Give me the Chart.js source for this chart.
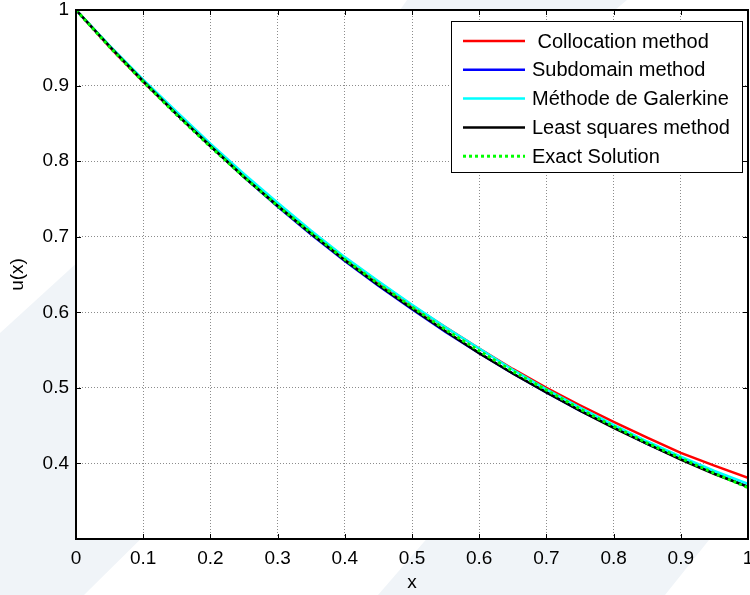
<!DOCTYPE html>
<html>
<head>
<meta charset="utf-8">
<script src="https://cdn.jsdelivr.net/npm/chart.js@4.4.0/dist/chart.umd.min.js"></script>
<style>
  html, body { margin: 0; padding: 0; background: #fff; }
</style>
</head>
<body>
<canvas id="chart" width="750" height="595"></canvas>
<script>
var xs = [0, 0.05, 0.1, 0.15, 0.2, 0.25, 0.3, 0.35, 0.4, 0.45, 0.5,
          0.55, 0.6, 0.65, 0.7, 0.75, 0.8, 0.85, 0.9, 0.95, 1];

var collocation = [1, 0.951, 0.905, 0.862, 0.820, 0.781, 0.743, 0.707, 0.672, 0.640, 0.609,
                   0.580, 0.552, 0.525, 0.500, 0.477, 0.455, 0.434, 0.414, 0.397, 0.381];
var subdomain   = [1, 0.952, 0.906, 0.862, 0.820, 0.779, 0.740, 0.703, 0.668, 0.635, 0.604,
                   0.574, 0.546, 0.519, 0.494, 0.470, 0.448, 0.426, 0.406, 0.387, 0.369];
var galerkin    = [1, 0.953, 0.908, 0.865, 0.823, 0.783, 0.745, 0.708, 0.673, 0.641, 0.610,
                   0.580, 0.552, 0.524, 0.498, 0.474, 0.451, 0.429, 0.409, 0.390, 0.373];
var leastSq     = [1, 0.952, 0.906, 0.862, 0.820, 0.779, 0.741, 0.704, 0.669, 0.636, 0.605,
                   0.575, 0.546, 0.519, 0.494, 0.470, 0.447, 0.426, 0.405, 0.386, 0.369];
var exact       = [1, 0.951, 0.905, 0.861, 0.819, 0.779, 0.741, 0.705, 0.670, 0.638, 0.607,
                   0.577, 0.549, 0.522, 0.497, 0.472, 0.449, 0.427, 0.407, 0.387, 0.368];

var names = [" Collocation method", "Subdomain method", "M\u00e9thode de Galerkine",
             "Least squares method", "Exact Solution"];
var xTicks = [0, 0.1, 0.2, 0.3, 0.4, 0.5, 0.6, 0.7, 0.8, 0.9, 1];
var yTicks = [0.3, 0.4, 0.5, 0.6, 0.7, 0.8, 0.9, 1];
var xTickLabels = ["0", "0.1", "0.2", "0.3", "0.4", "0.5", "0.6", "0.7", "0.8", "0.9", "1"];
var yTickLabels = ["", "0.4", "0.5", "0.6", "0.7", "0.8", "0.9", "1"];

function pts(ys) {
  return xs.map(function (x, i) { return {x: x, y: ys[i]}; });
}

function series(label, ys, color, order, dash) {
  return {
    label: label,
    data: pts(ys),
    borderColor: color,
    backgroundColor: color,
    borderWidth: dash ? 3 : 2.5,
    borderDash: dash || [],
    pointRadius: 0,
    tension: 0,
    fill: false,
    order: order
  };
}

// faint watermark shapes behind the figure
var bgShapes = {
  id: "bgShapes",
  beforeDraw: function (chart) {
    var ctx = chart.ctx;
    ctx.save();
    ctx.fillStyle = "#f0f4f8";
    var polys = [
      [[0, 333], [80, 260], [160, 520], [84, 595], [0, 595]],
      [[378, 595], [430, 535], [713, 535], [665, 595]],
      [[407, 0], [627, 0], [615, 10], [400, 10]]
    ];
    polys.forEach(function (p) {
      ctx.beginPath();
      ctx.moveTo(p[0][0], p[0][1]);
      for (var i = 1; i < p.length; i++) ctx.lineTo(p[i][0], p[i][1]);
      ctx.closePath();
      ctx.fill();
    });
    var a = chart.chartArea;
    ctx.fillStyle = "#fff";
    ctx.fillRect(a.left, a.top, a.right - a.left, a.bottom - a.top);
    ctx.restore();
  }
};

// MATLAB style box, inward ticks and legend
var boxLegend = {
  id: "boxLegend",
  afterDraw: function (chart) {
    var ctx = chart.ctx, a = chart.chartArea;
    var sx = chart.scales.x, sy = chart.scales.y;
    ctx.save();
    ctx.strokeStyle = "#000";
    ctx.lineWidth = 1;
    ctx.beginPath();
    xTicks.forEach(function (v) {
      var px = Math.round(sx.getPixelForValue(v)) + 0.5;
      ctx.moveTo(px, a.bottom); ctx.lineTo(px, a.bottom - 5);
      ctx.moveTo(px, a.top); ctx.lineTo(px, a.top + 5);
    });
    yTicks.forEach(function (v) {
      var py = Math.round(sy.getPixelForValue(v)) + 0.5;
      ctx.moveTo(a.left, py); ctx.lineTo(a.left + 5, py);
      ctx.moveTo(a.right, py); ctx.lineTo(a.right - 5, py);
    });
    ctx.stroke();
    ctx.lineWidth = 2;
    ctx.strokeRect(a.left, a.top, a.right - a.left, a.bottom - a.top);

    // legend
    var lx = 451, ly = 21, lw = 291, lh = 151;
    ctx.fillStyle = "#fff";
    ctx.fillRect(lx, ly, lw, lh);
    ctx.lineWidth = 1;
    ctx.strokeRect(lx + 0.5, ly + 0.5, lw, lh);
    ctx.font = "20px 'Liberation Sans', Arial, sans-serif";
    ctx.textBaseline = "middle";
    chart.data.datasets.forEach(function (ds, i) {
      var y = 41 + i * 28.8;
      ctx.strokeStyle = ds.borderColor;
      ctx.lineWidth = ds.borderWidth;
      ctx.setLineDash(ds.borderDash);
      ctx.beginPath();
      ctx.moveTo(463, y); ctx.lineTo(525, y);
      ctx.stroke();
      ctx.setLineDash([]);
      ctx.fillStyle = "#000";
      ctx.fillText(ds.label, 532, y + 1);
    });
    ctx.restore();
  }
};

var font = {family: "'Liberation Sans', Arial, sans-serif", size: 19};

new Chart(document.getElementById("chart"), {
  type: "line",
  data: {
    datasets: [
      series(names[0], collocation, "#ff0000", 4),
      series(names[1], subdomain, "#0000ff", 3),
      series(names[2], galerkin, "#00ffff", 2),
      series(names[3], leastSq, "#000000", 1),
      series(names[4], exact, "#00ff00", 0, [3, 3])
    ]
  },
  options: {
    responsive: false,
    animation: false,
    devicePixelRatio: 1,
    layout: {autoPadding: false, padding: {top: 10, right: 2, left: 0, bottom: 0}},
    plugins: {legend: {display: false}, tooltip: {enabled: false}},
    scales: {
      x: {
        type: "linear",
        min: 0, max: 1,
        afterBuildTicks: function (s) { s.ticks = xTicks.map(function (v) { return {value: v}; }); },
        afterFit: function (s) { s.height = 56; s.paddingLeft = 0; s.paddingRight = 0; },
        ticks: {
          font: font, color: "#000", padding: 8, maxRotation: 0, autoSkip: false,
          callback: function (v, i) { return xTickLabels[i]; }
        },
        grid: {color: "#8c8c8c", lineWidth: 1, drawTicks: false},
        border: {display: false, dash: [1, 2]},
        title: {display: true, text: "x", font: font, color: "#000", padding: {top: 0, bottom: 1}}
      },
      y: {
        type: "linear",
        min: 0.3, max: 1,
        afterBuildTicks: function (s) { s.ticks = yTicks.map(function (v) { return {value: v}; }); },
        afterFit: function (s) { s.width = 76; s.paddingTop = 0; s.paddingBottom = 0; },
        ticks: {
          font: font, color: "#000", padding: 7, autoSkip: false,
          callback: function (v, i) { return yTickLabels[i]; }
        },
        grid: {color: "#8c8c8c", lineWidth: 1, drawTicks: false},
        border: {display: false, dash: [1, 2]},
        title: {display: true, text: "u(x)", font: font, color: "#000", padding: {top: 6, bottom: 0}}
      }
    }
  },
  plugins: [bgShapes, boxLegend]
});
</script>
</body>
</html>
